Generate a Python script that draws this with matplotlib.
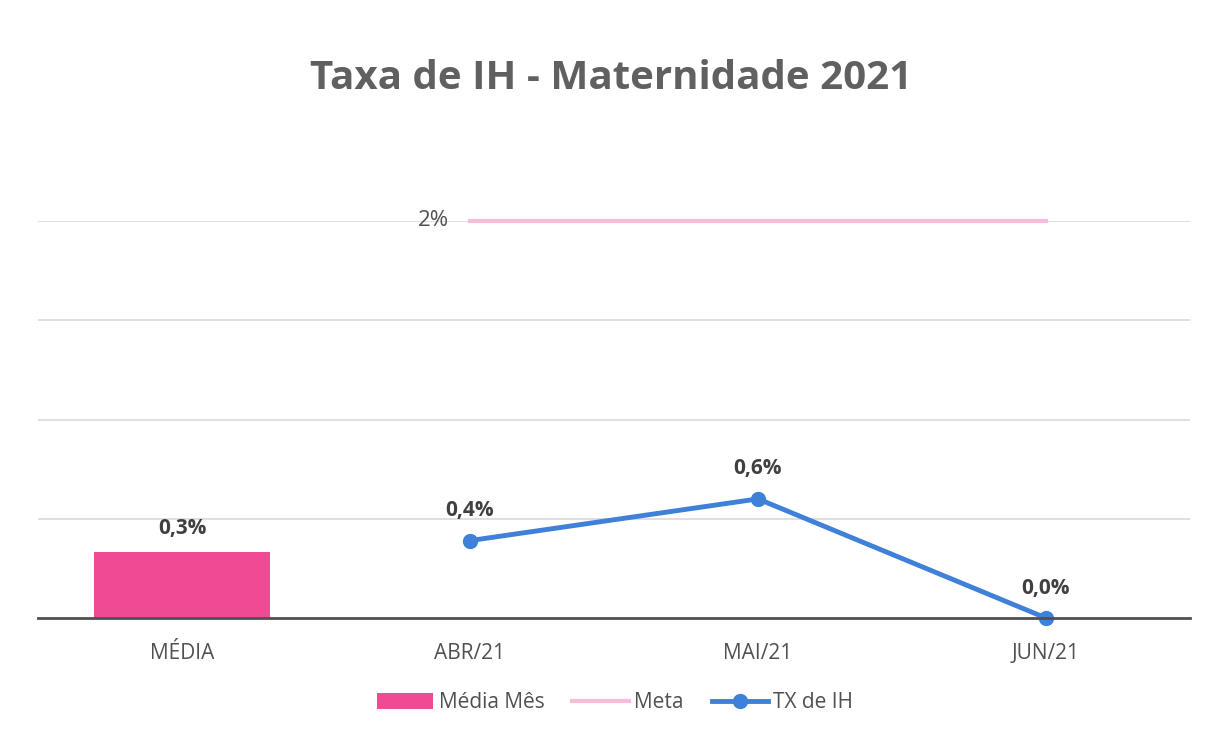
import matplotlib
matplotlib.use("Agg")
import matplotlib.pyplot as plt
import numpy as np
from matplotlib.patches import Patch
from matplotlib.lines import Line2D

categories = ["MÉDIA", "ABR/21", "MAI/21", "JUN/21"]
media_mes = [0.33, np.nan, np.nan, np.nan]
meta = [np.nan, 2.0, 2.0, 2.0]
tx_ih = [np.nan, 0.39, 0.6, 0.0]
media_labels = ["0,3%", "", "", ""]
tx_labels = ["", "0,4%", "0,6%", "0,0%"]
meta_label = "2%"

plt.rcParams['font.family'] = ['Open Sans', 'DejaVu Sans']

fig = plt.figure(figsize=(12.06, 7.34), dpi=100)
fig.patch.set_facecolor("white")
ax = fig.add_axes([38/1206, (734-618)/734, (1190-38)/1206, (618-221)/734])
ax.set_facecolor("white")

x = np.arange(len(categories))
pink = "#EF4A94"
meta_c = "#F6BCD8"
blue = "#3F80D8"
txt = "#404040"

ax.bar(x, media_mes, width=0.61, color=pink, zorder=3)
ax.plot(x, meta, color=meta_c, lw=3, zorder=3, clip_on=False)
ax.plot(x, tx_ih, color=blue, lw=3.5, marker="o", ms=10, zorder=4, clip_on=False)

for xi, v, lab in zip(x, media_mes, media_labels):
    if lab:
        ax.annotate(lab, (xi, v), xytext=(0, 10), textcoords="offset points",
                    ha="center", va="bottom", fontsize=15, fontweight="bold", color=txt)
for xi, v, lab in zip(x, tx_ih, tx_labels):
    if lab:
        ax.annotate(lab, (xi, v), xytext=(0, 14), textcoords="offset points",
                    ha="center", va="bottom", fontsize=15, fontweight="bold", color=txt)
ax.annotate(meta_label, (x[1], meta[1]), xytext=(-15, 0), textcoords="offset points",
            ha="right", va="center", fontsize=16, color="#505050")

ax.set_xlim(-0.5, len(categories) - 0.5)
ax.set_ylim(0, 2.0)
ax.set_yticks([0.5, 1.0, 1.5, 2.0])
ax.yaxis.grid(True, color="#D9D9D9", lw=1.2, zorder=0)
ax.set_yticklabels([])
ax.tick_params(axis="y", length=0)
ax.set_xticks(x)
ax.set_xticklabels(categories, fontsize=15, color="#505050")
ax.tick_params(axis="x", length=0, pad=18)
for s in ["top", "right", "left"]:
    ax.spines[s].set_visible(False)
ax.spines["bottom"].set_color("#505050")
ax.spines["bottom"].set_linewidth(2)
ax.spines["bottom"].set_zorder(5)

fig.text(0.507, 0.893, "Taxa de IH - Maternidade 2021", ha="center", va="center",
         fontsize=29, fontweight="bold", color="#606060")

handles = [Patch(facecolor=pink, edgecolor="none"),
           Line2D([], [], color=meta_c, lw=3),
           Line2D([], [], color=blue, lw=3.5, marker="o", ms=10)]
fig.legend(handles, ["Média Mês", "Meta", "TX de IH"], loc="center",
           bbox_to_anchor=(0.51, (734-703)/734), ncol=3, frameon=False,
           fontsize=15, labelcolor="#505050", handlelength=2.7, handleheight=0.8,
           handletextpad=0.25, columnspacing=1.35)

fig.savefig("out.png", dpi=100, facecolor="white")
